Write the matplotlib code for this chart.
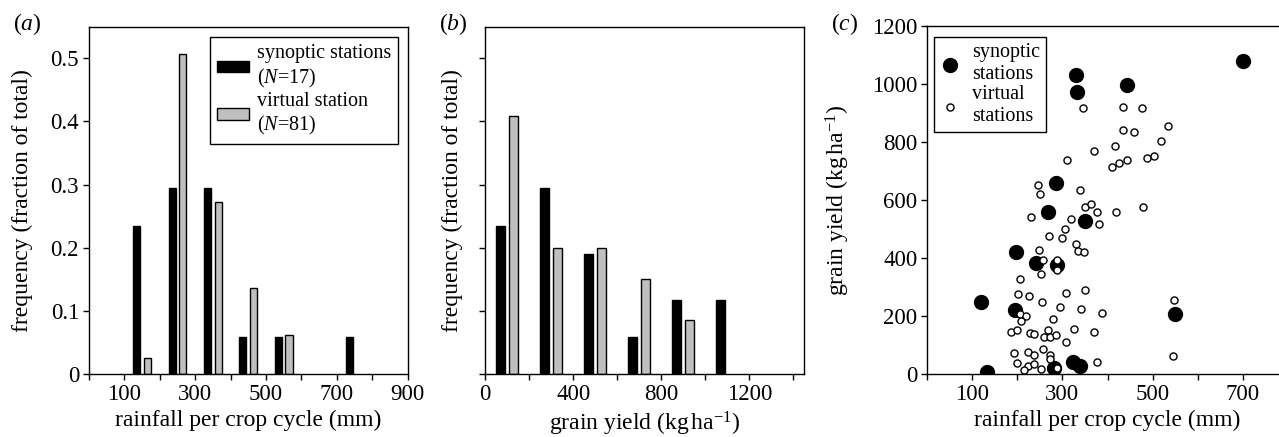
import matplotlib
matplotlib.use('Agg')
import matplotlib.pyplot as plt
import numpy as np

plt.rcParams['font.family'] = ['Liberation Serif', 'DejaVu Serif']
plt.rcParams['mathtext.fontset'] = 'custom'
plt.rcParams['mathtext.rm'] = 'Liberation Serif'
plt.rcParams['mathtext.it'] = 'Liberation Serif:italic'
plt.rcParams['font.size'] = 16.5
plt.rcParams['axes.labelsize'] = 17

# (a) rainfall histogram, bins of 100 mm
rain_bins = [150, 250, 350, 450, 550, 650, 750]
rain_syn = [0.235, 0.294, 0.294, 0.059, 0.059, 0.0, 0.059]
rain_vir = [0.025, 0.506, 0.272, 0.136, 0.062, 0.0, 0.0]

# (b) grain yield histogram, bins of 200 kg/ha
yield_bins = [100, 300, 500, 700, 900, 1100]
yield_syn = [0.235, 0.294, 0.19, 0.059, 0.117, 0.117]
yield_vir = [0.408, 0.2, 0.2, 0.151, 0.086, 0.0]

# (c) rainfall vs grain yield
syn_rain = [700, 331, 332, 442, 285, 267, 349, 198, 241, 287, 120, 196, 549, 133, 323, 339, 281]
syn_yield = [1078, 1030, 971, 998, 659, 559, 529, 420, 384, 376, 248, 220, 206, 7, 43, 28, 21]

vir_rain = [346, 434, 477, 535, 435, 459, 519, 417, 370, 311, 410, 425, 442, 487, 502,
            245, 250, 338, 349, 363, 377, 381, 418, 478, 231, 319, 306, 270, 299, 331,
            334, 348, 249, 256, 287, 289, 253, 205, 202, 225, 255, 307, 349, 295, 341,
            388, 548, 206, 219, 208, 279, 186, 199, 229, 236, 269, 260, 273, 285, 325,
            370, 307, 256, 193, 223, 238, 272, 273, 546, 199, 223, 237, 214, 253, 287, 376]
vir_yield = [916, 922, 917, 855, 841, 834, 805, 787, 768, 739, 715, 726, 739, 746, 751,
             651, 621, 633, 576, 585, 559, 517, 560, 576, 541, 534, 501, 476, 469, 449,
             425, 421, 428, 393, 393, 359, 345, 329, 276, 268, 248, 278, 290, 232, 223,
             210, 255, 207, 199, 184, 191, 145, 151, 140, 137, 152, 129, 129, 133, 154,
             145, 109, 87, 71, 77, 66, 64, 52, 63, 37, 28, 33, 14, 16, 20, 41]

GRAY = '#bfbfbf'


def nonzero(centers, values):
    # skip empty bins so no flat bar is drawn on the axis
    pairs = [(c, v) for c, v in zip(centers, values) if v > 0]
    return np.array([p[0] for p in pairs]), [p[1] for p in pairs]


fig = plt.figure(figsize=(12.79, 4.37), dpi=100)
ax_a = fig.add_axes([0.0694, 0.1442, 0.2494, 0.7947])
ax_b = fig.add_axes([0.3794, 0.1442, 0.2494, 0.7947])
ax_c = fig.add_axes([0.7248, 0.1442, 0.2823, 0.7963])

for ax in (ax_a, ax_b, ax_c):
    for s in ax.spines.values():
        s.set_linewidth(1.0)
    ax.tick_params(which='both', direction='out', length=4, width=1.0, pad=3)

# ---- (a)
x, h = nonzero(rain_bins, rain_syn)
ax_a.bar(x - 15, h, width=20, color='black', edgecolor='black', lw=1,
         label='synoptic stations\n($N$=17)')
x, h = nonzero(rain_bins, rain_vir)
ax_a.bar(x + 15, h, width=20, color=GRAY, edgecolor='black', lw=1,
         label='virtual station\n($N$=81)')
ax_a.set_xlim(0, 900)
ax_a.set_ylim(0, 0.55)
ax_a.set_xticks([100, 300, 500, 700, 900])
ax_a.set_xticks([0, 200, 400, 600, 800], minor=True)
ax_a.set_yticks([0, 0.1, 0.2, 0.3, 0.4, 0.5])
ax_a.set_yticklabels(['0', '0.1', '0.2', '0.3', '0.4', '0.5'])
ax_a.set_xlabel('rainfall per crop cycle (mm)')
ax_a.set_ylabel('frequency (fraction of total)')
ax_a.yaxis.set_label_coords(-0.175, 0.5)
ax_a.legend(loc='upper right', bbox_to_anchor=(0.969, 0.970), borderaxespad=0,
            fontsize=14.5, fancybox=False, edgecolor='black', framealpha=1,
            handlelength=1.55, handleheight=0.5, labelspacing=0.1,
            handletextpad=0.4, borderpad=0.35).get_frame().set_linewidth(1.0)
fig.text(0.010, 0.945, '($a$)', fontsize=17, va='center')

# ---- (b)
x, h = nonzero(yield_bins, yield_syn)
ax_b.bar(x - 30, h, width=40, color='black', edgecolor='black', lw=1)
x, h = nonzero(yield_bins, yield_vir)
ax_b.bar(x + 30, h, width=40, color=GRAY, edgecolor='black', lw=1)
ax_b.set_xlim(0, 1450)
ax_b.set_ylim(0, 0.55)
ax_b.set_xticks([0, 400, 800, 1200])
ax_b.set_xticks([200, 600, 1000, 1400], minor=True)
ax_b.set_yticks([0, 0.1, 0.2, 0.3, 0.4, 0.5])
ax_b.set_yticklabels([])
ax_b.set_xlabel('grain yield (kg$\\,$ha$^{-1}$)')
ax_b.set_ylabel('frequency (fraction of total)')
ax_b.yaxis.set_label_coords(-0.070, 0.5)
fig.text(0.343, 0.945, '($b$)', fontsize=17, va='center')

# ---- (c)
ax_c.scatter(syn_rain, syn_yield, s=100, c='black', zorder=3, label='synoptic\nstations')
ax_c.scatter(vir_rain, vir_yield, s=26, facecolor='white', edgecolor='black',
             linewidths=1.0, zorder=4, label='virtual\nstations')
ax_c.set_xlim(0, 800)
ax_c.set_ylim(0, 1200)
ax_c.set_xticks([100, 300, 500, 700])
ax_c.set_xticks([0, 200, 400, 600, 800], minor=True)
ax_c.set_yticks(range(0, 1201, 200))
ax_c.set_xlabel('rainfall per crop cycle (mm)')
ax_c.set_ylabel('grain yield (kg$\\,$ha$^{-1}$)')
ax_c.yaxis.set_label_coords(-0.208, 0.5)
ax_c.legend(loc='upper left', bbox_to_anchor=(0.019, 0.968), borderaxespad=0,
            fontsize=14.5, fancybox=False, edgecolor='black', framealpha=1,
            handlelength=1.0, labelspacing=0.05, borderpad=0.3,
            handletextpad=0.6).get_frame().set_linewidth(1.0)
fig.text(0.650, 0.945, '($c$)', fontsize=17, va='center')

plt.savefig('out.png', dpi=100)
